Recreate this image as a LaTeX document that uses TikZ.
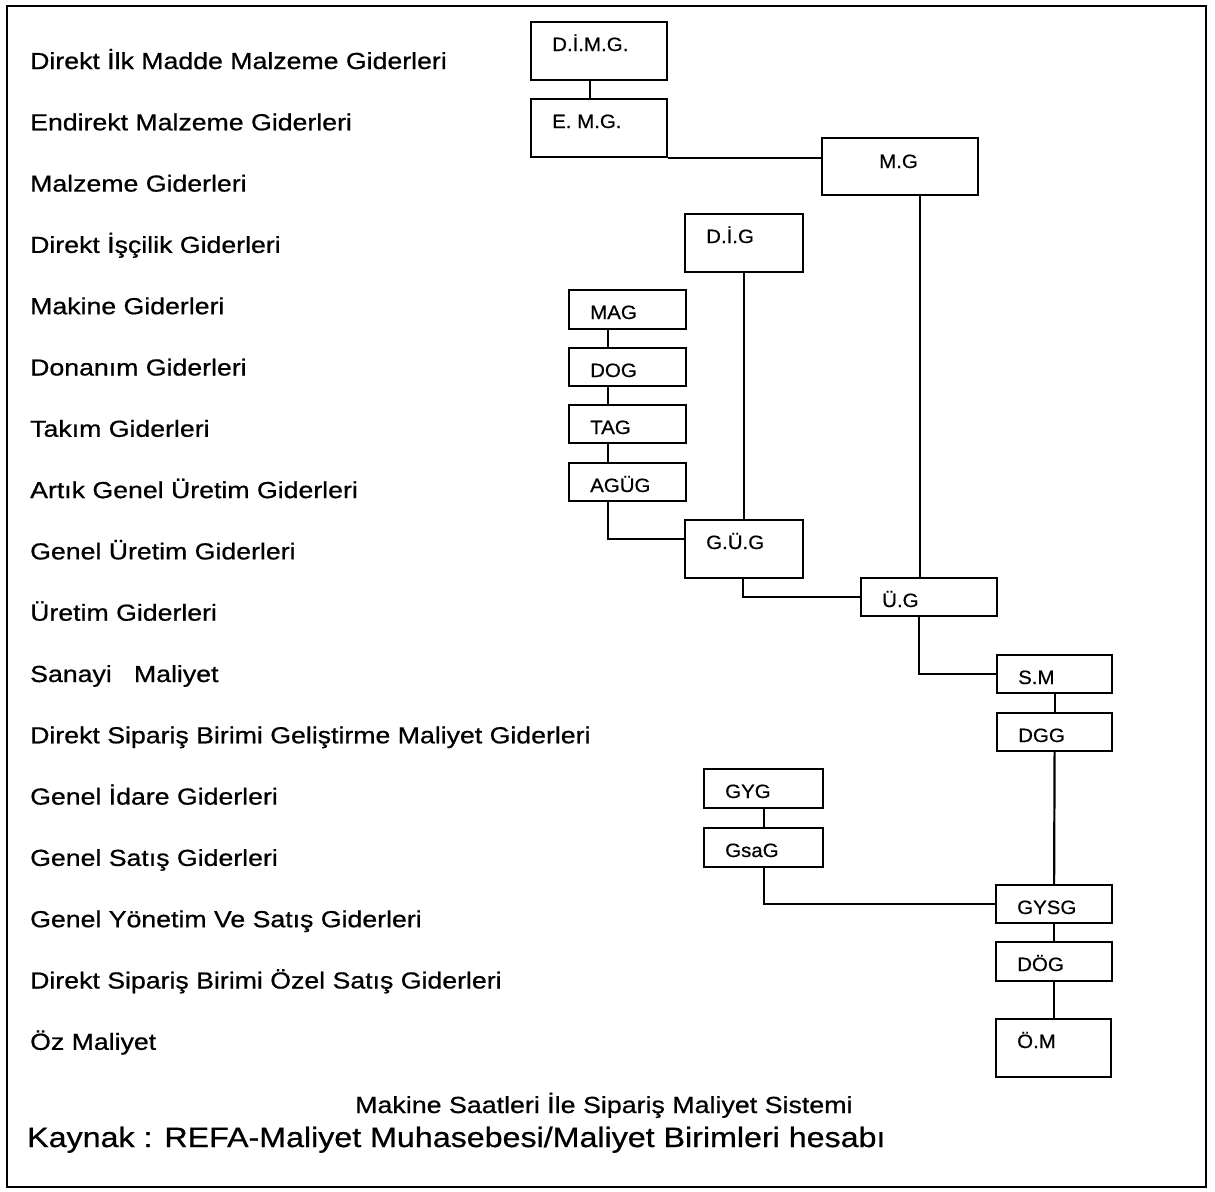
\documentclass[tikz,border=0pt]{standalone}
\usepackage{fontspec}
\setmainfont{Liberation Sans}[FakeStretch=1.15,FakeBold=0.7]
\newfontfamily\boxfont{Liberation Sans}[FakeStretch=1.06,FakeBold=0.6]
\usetikzlibrary{calc}

% one cost box: name, left, top, right, bottom, abbreviation
\newcommand\kutu[6]{%
  \node[box, minimum width={#4-#2}, minimum height={#5-#3}] (#1) at (#2,#3) {};
  \node[boxtext] (#1t) at ([xshift=22pt,yshift=-30pt]#1.north west) {#6};}

\begin{document}
\begin{tikzpicture}[x=1pt,y=-1pt,
  box/.style={draw, line width=2.2pt, inner sep=0pt, anchor=north west},
  boxtext/.style={anchor=base west, inner sep=0pt, font=\boxfont\fontsize{19.3}{22}\selectfont},
  lbl/.style={anchor=base west, inner sep=0pt, font=\fontsize{23.2}{27}\selectfont},
  conn/.style={draw, line width=2.2pt}]

% page and outer frame
\fill[white] (0,0) rectangle (1215,1191);
\draw[line width=2.2pt] (7,6) rectangle (1206,1187);

% cost item names
\foreach \t [count=\i] in {Direkt İlk Madde Malzeme Giderleri,
  Endirekt Malzeme Giderleri, Malzeme Giderleri, Direkt İşçilik Giderleri,
  Makine Giderleri, Donanım Giderleri, Takım Giderleri,
  Artık Genel Üretim Giderleri, Genel Üretim Giderleri, Üretim Giderleri,
  Sanayi\ \ \ Maliyet, Direkt Sipariş Birimi Geliştirme Maliyet Giderleri,
  Genel İdare Giderleri, Genel Satış Giderleri,
  Genel Yönetim Ve Satış Giderleri, Direkt Sipariş Birimi Özel Satış Giderleri,
  Öz Maliyet}
  \node[lbl] (lab\i) at (30,{69+61.3*(\i-1)}) {\t};

% boxes
\kutu{dimg}{530}{21}{666}{79}{D.İ.M.G.}
\kutu{emg}{530}{98}{666}{156}{E. M.G.}
\node[box, minimum width=156, minimum height=57] (mg) at (821,137) {};
\node[boxtext] (mgt) at ([xshift=58pt,yshift=-31pt]mg.north west) {M.G};
\kutu{dig}{684}{213}{802}{271}{D.İ.G}
\kutu{mag}{568}{289}{685}{328}{MAG}
\kutu{dog}{568}{347}{685}{385}{DOG}
\kutu{tag}{568}{404}{685}{442}{TAG}
\kutu{agug}{568}{462}{685}{500}{AGÜG}
\kutu{gug}{684}{519}{802}{577}{G.Ü.G}
\kutu{ug}{860}{577}{996}{615}{Ü.G}
\kutu{sm}{996}{654}{1111}{692}{S.M}
\kutu{dgg}{996}{712}{1111}{750}{DGG}
\kutu{gyg}{703}{768}{822}{807}{GYG}
\kutu{gsag}{703}{827}{822}{866}{GsaG}
\kutu{gysg}{995}{884}{1111}{922}{GYSG}
\kutu{dog2}{995}{941}{1111}{980}{DÖG}
\kutu{om}{995}{1018}{1110}{1076}{Ö.M}

% connectors
\draw[conn] ([xshift=-9pt]dimg.south) -- ([xshift=-9pt]emg.north);
\draw[conn] (emg.south east) -- (emg.south east -| mg.west);
\draw[conn] ([xshift=19.5pt]mg.south) -- ([xshift=19.5pt]mg.south |- ug.north);
\draw[conn] (dig.south) -- (dig.south |- gug.north);
\draw[conn] ([xshift=-19.5pt]mag.south) -- ([xshift=-19.5pt]dog.north);
\draw[conn] ([xshift=-19.5pt]dog.south) -- ([xshift=-19.5pt]tag.north);
\draw[conn] ([xshift=-19.5pt]tag.south) -- ([xshift=-19.5pt]agug.north);
\draw[conn] ([xshift=-19.5pt]agug.south) |- ([yshift=10pt]gug.west);
\draw[conn] ([xshift=-1pt]gug.south) |- (ug.west);
\draw[conn] ([xshift=-10pt]ug.south) |- (sm.west);
\draw[conn] (sm.south) -- (dgg.north);
\draw[conn] (dgg.south) -- (gysg.north);
\draw[conn] (gyg.south) -- (gsag.north);
\draw[conn] (gsag.south) |- (gysg.west);
\draw[conn] (gysg.south) -- (gysg.south |- dog2.north);
\draw[conn] (dog2.south) -- (dog2.south |- om.north);

% caption and source
\node[anchor=base west, inner sep=0pt, font=\fontsize{23.3}{28}\selectfont] (cap) at (355,1113)
  {Makine Saatleri İle Sipariş Maliyet Sistemi};
\node[anchor=base west, inner sep=0pt, font=\fontsize{28}{33}\selectfont] (src) at (27,1147)
  {Kaynak : REFA-Maliyet Muhasebesi/Maliyet Birimleri hesabı};
\end{tikzpicture}
\end{document}
